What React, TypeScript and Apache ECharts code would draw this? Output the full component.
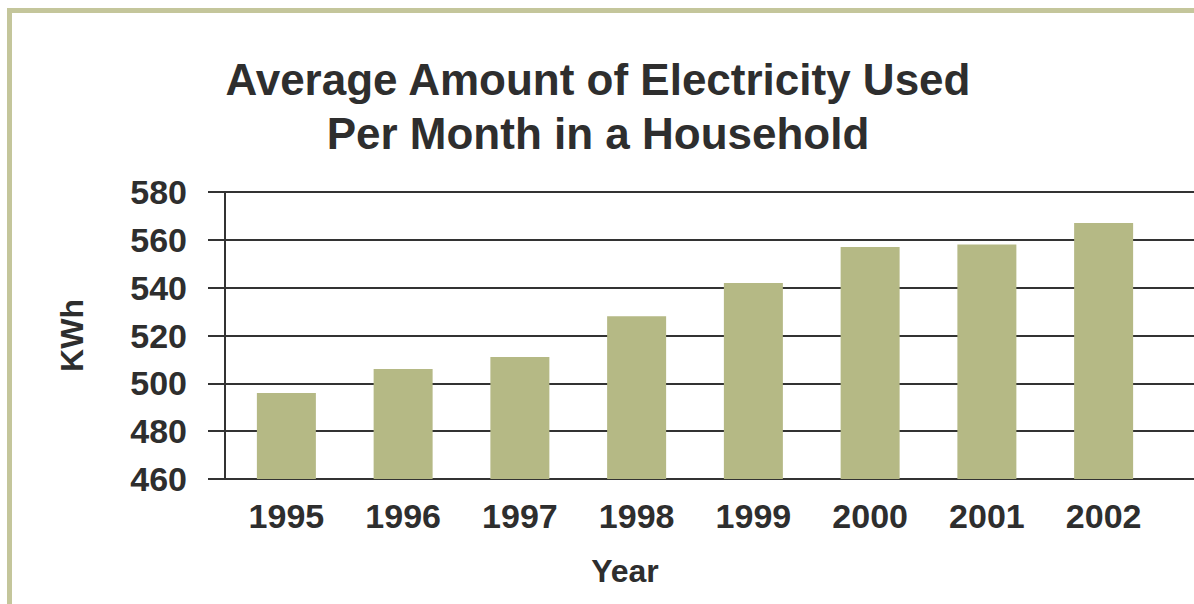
import React, { useEffect, useRef } from "react";
import * as echarts from "echarts";

const years = ["1995", "1996", "1997", "1998", "1999", "2000", "2001", "2002"];
const kwh = [496, 506, 511, 528, 542, 557, 558, 567];
const yMin = 460;
const yMax = 580;
const yStep = 20;
const titleLines = ["Average Amount of Electricity Used", "Per Month in a Household"];
const xName = "Year";
const yName = "KWh";

const FONT = "'Liberation Sans', Arial, sans-serif";
const INK = "#2e2e2e";

export default function App() {
  const ref = useRef<HTMLDivElement>(null);
  useEffect(() => {
    if (!ref.current) return;
    const chart = echarts.init(ref.current, undefined, { renderer: "svg" });
    chart.setOption({
      animation: false,
      backgroundColor: "#ffffff",
      textStyle: { fontFamily: FONT },
      title: {
        text: titleLines.join("\n"),
        left: 598,
        top: 52,
        padding: 0,
        textAlign: "center",
        textStyle: { fontFamily: FONT, fontSize: 44, fontWeight: "bold", color: INK, lineHeight: 54 },
      },
      graphic: [
        {
          type: "rect",
          shape: { x: 9.5, y: 10.5, width: 1400, height: 800 },
          style: { fill: "none", stroke: "#c4c69b", lineWidth: 5 },
          silent: true,
        },
      ],
      grid: [
        { left: 225, right: 0, top: 192, bottom: 125 },
        { left: 228, width: 934, top: 192, bottom: 125 },
      ],
      xAxis: [
        { type: "value", gridIndex: 0, show: false, min: 0, max: 1 },
        {
          type: "category",
          gridIndex: 1,
          data: years,
          axisLine: { show: false },
          axisTick: { show: false },
          axisLabel: { fontFamily: FONT, fontSize: 34, fontWeight: "bold", color: INK, margin: 20 },
          name: xName,
          nameLocation: "middle",
          nameGap: 76,
          nameTextStyle: {
            fontFamily: FONT,
            fontSize: 32,
            fontWeight: "bold",
            color: INK,
            padding: [0, 140, 0, 0],
          },
        },
      ],
      yAxis: [
        {
          type: "value",
          gridIndex: 0,
          min: yMin,
          max: yMax,
          interval: yStep,
          axisLine: { show: true, lineStyle: { color: "#333", width: 2 } },
          axisTick: { show: true, length: 17, lineStyle: { color: "#333", width: 2 } },
          splitLine: { show: true, lineStyle: { color: "#333", width: 2 } },
          axisLabel: { fontFamily: FONT, fontSize: 34, fontWeight: "bold", color: INK, margin: 38 },
          name: yName,
          nameLocation: "middle",
          nameGap: 137,
          nameTextStyle: { fontFamily: FONT, fontSize: 32, fontWeight: "bold", color: INK },
        },
        {
          type: "value",
          gridIndex: 1,
          min: yMin,
          max: yMax,
          interval: yStep,
          show: false,
          splitLine: { show: false },
        },
      ],
      series: [
        {
          type: "bar",
          xAxisIndex: 1,
          yAxisIndex: 1,
          data: kwh,
          barWidth: 59,
          itemStyle: { color: "#b5b985" },
          z: 3,
        },
      ],
    });
    return () => chart.dispose();
  }, []);
  return (
    <div
      ref={ref}
      style={{ position: "absolute", left: 0, top: 0, width: 1194, height: 604 }}
    />
  );
}
